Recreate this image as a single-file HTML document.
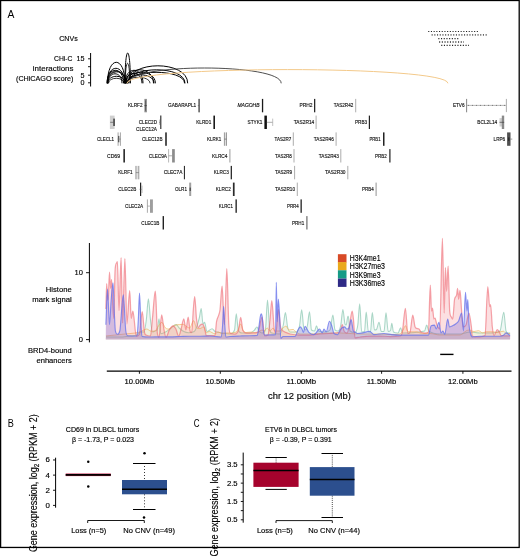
<!DOCTYPE html>
<html><head><meta charset="utf-8"><title>Figure</title>
<style>
html,body{margin:0;padding:0;background:#fff;width:520px;height:557px;overflow:hidden}
svg{display:block;will-change:transform}
text{font-family:"Liberation Sans", sans-serif;stroke:currentColor;stroke-width:0.15px;}
</style></head><body>
<svg width="520" height="557" viewBox="0 0 520 557">
<rect x="0.6" y="0.5" width="518.6" height="546.95" fill="none" stroke="#000" stroke-width="1.3"/>
<text x="7.50" y="17.60" font-size="10.7" textLength="6.90" lengthAdjust="spacingAndGlyphs" fill="#000" style="color:#000;stroke-width:0px" >A</text>
<text x="7.70" y="426.80" font-size="10.5" textLength="6.10" lengthAdjust="spacingAndGlyphs" fill="#000" style="color:#000;stroke-width:0px" >B</text>
<text x="193.80" y="426.80" font-size="10.5" textLength="5.80" lengthAdjust="spacingAndGlyphs" fill="#000" style="color:#000;stroke-width:0px" >C</text>
<text x="59.20" y="41.20" font-size="8.0" textLength="18.50" lengthAdjust="spacingAndGlyphs" fill="#000" style="color:#000" >CNVs</text>
<line x1="428.2" y1="31.5" x2="478.5" y2="31.5" stroke="#222" stroke-width="1.2" stroke-dasharray="1.1 1.6"/>
<line x1="431.6" y1="34.9" x2="487.7" y2="34.9" stroke="#666" stroke-width="1.9" stroke-dasharray="1.1 1.6"/>
<line x1="438.3" y1="38.6" x2="459" y2="38.6" stroke="#222" stroke-width="1.2" stroke-dasharray="1.1 1.6"/>
<line x1="439.1" y1="42.0" x2="464" y2="42.0" stroke="#666" stroke-width="1.9" stroke-dasharray="1.1 1.6"/>
<line x1="441.2" y1="45.4" x2="469" y2="45.4" stroke="#222" stroke-width="1.2" stroke-dasharray="1.1 1.6"/>
<text x="54.00" y="61.20" font-size="8.0" textLength="18.50" lengthAdjust="spacingAndGlyphs" fill="#000" style="color:#000" >CHi-C</text>
<text x="32.80" y="71.30" font-size="8.0" textLength="40.70" lengthAdjust="spacingAndGlyphs" fill="#000" style="color:#000" >interactions</text>
<text x="16.00" y="81.00" font-size="8.0" textLength="57.50" lengthAdjust="spacingAndGlyphs" fill="#000" style="color:#000" >(CHiCAGO score)</text>
<line x1="90.6" y1="53" x2="90.6" y2="86.5" stroke="#000" stroke-width="1"/>
<line x1="88" y1="58.8" x2="90.6" y2="58.8" stroke="#000" stroke-width="0.9"/>
<line x1="88" y1="66.7" x2="90.6" y2="66.7" stroke="#000" stroke-width="0.9"/>
<line x1="88" y1="75.2" x2="90.6" y2="75.2" stroke="#000" stroke-width="0.9"/>
<line x1="88" y1="82.8" x2="90.6" y2="82.8" stroke="#000" stroke-width="0.9"/>
<text x="76.50" y="61.30" font-size="8.0" textLength="8.00" lengthAdjust="spacingAndGlyphs" fill="#000" style="color:#000" >15</text>
<text x="80.50" y="77.70" font-size="8.0" textLength="4.00" lengthAdjust="spacingAndGlyphs" fill="#000" style="color:#000" >5</text>
<text x="80.50" y="85.30" font-size="8.0" textLength="4.00" lengthAdjust="spacingAndGlyphs" fill="#000" style="color:#000" >0</text>
<path d="M125.0 83.3 C125.0 42.90 130.4 42.90 130.4 83.3" fill="none" stroke="#000" stroke-width="1.0" stroke-opacity="1"/>
<path d="M125.3 83.3 C125.3 56.63 129.8 56.63 129.8 83.3" fill="none" stroke="#000" stroke-width="0.9" stroke-opacity="0.9"/>
<path d="M107.5 83.3 C107.5 55.30 125.0 55.30 125.0 83.3" fill="none" stroke="#000" stroke-width="1.0" stroke-opacity="1"/>
<path d="M107.3 83.3 C107.3 63.30 124.5 63.30 124.5 83.3" fill="none" stroke="#000" stroke-width="1.0" stroke-opacity="1"/>
<path d="M107.0 83.3 C107.0 65.97 123.5 65.97 123.5 83.3" fill="none" stroke="#000" stroke-width="1.0" stroke-opacity="1"/>
<path d="M107.6 83.3 C107.6 67.97 126.0 67.97 126.0 83.3" fill="none" stroke="#000" stroke-width="1.0" stroke-opacity="1"/>
<path d="M108.0 83.3 C108.0 70.63 122.0 70.63 122.0 83.3" fill="none" stroke="#000" stroke-width="1.0" stroke-opacity="1"/>
<path d="M107.8 83.3 C107.8 73.97 125.0 73.97 125.0 83.3" fill="none" stroke="#000" stroke-width="1.0" stroke-opacity="1"/>
<path d="M107.2 83.3 C107.2 67.03 125.5 67.03 125.5 83.3" fill="none" stroke="#000" stroke-width="0.9" stroke-opacity="0.9"/>
<path d="M108.5 83.3 C108.5 76.63 124.0 76.63 124.0 83.3" fill="none" stroke="#000" stroke-width="0.9" stroke-opacity="0.9"/>
<path d="M125.0 83.3 C125.0 65.97 143.0 65.97 143.0 83.3" fill="none" stroke="#000" stroke-width="1.0" stroke-opacity="1"/>
<path d="M125.5 83.3 C125.5 69.97 142.0 69.97 142.0 83.3" fill="none" stroke="#000" stroke-width="1.0" stroke-opacity="1"/>
<path d="M126.0 83.3 C126.0 65.30 153.5 65.30 153.5 83.3" fill="none" stroke="#000" stroke-width="1.0" stroke-opacity="1"/>
<path d="M126.0 83.3 C126.0 68.63 155.4 68.63 155.4 83.3" fill="none" stroke="#000" stroke-width="1.0" stroke-opacity="1"/>
<path d="M127.0 83.3 C127.0 71.97 154.0 71.97 154.0 83.3" fill="none" stroke="#000" stroke-width="1.0" stroke-opacity="1"/>
<path d="M126.5 83.3 C126.5 75.30 150.0 75.30 150.0 83.3" fill="none" stroke="#000" stroke-width="0.9" stroke-opacity="0.9"/>
<path d="M128.0 83.3 C128.0 59.97 187.7 59.97 187.7 83.3" fill="none" stroke="#000" stroke-width="1.0" stroke-opacity="1"/>
<path d="M128.0 83.3 C128.0 65.30 185.0 65.30 185.0 83.3" fill="none" stroke="#000" stroke-width="1.0" stroke-opacity="1"/>
<path d="M127.5 83.3 C127.5 68.63 184.6 68.63 184.6 83.3" fill="none" stroke="#000" stroke-width="1.0" stroke-opacity="1"/>
<path d="M128.0 83.3 C128.0 62.90 281.2 62.90 281.2 83.3" fill="none" stroke="#3a3a3a" stroke-width="0.9" stroke-opacity="1"/>
<path d="M127.0 83.3 C127.0 65.03 447.9 65.03 447.9 83.3" fill="none" stroke="#f3c98a" stroke-width="1.0" stroke-opacity="1"/>
<text x="128.00" y="107.40" font-size="5.3" textLength="14.50" lengthAdjust="spacingAndGlyphs" fill="#111" style="color:#111" >KLRF2</text>
<rect x="144.4" y="98.90" width="2.50" height="13.40" fill="#8c8c8c"/>
<rect x="145.4" y="100.40" width="0.60" height="10.40" fill="#444"/>
<line x1="144.4" y1="105.60" x2="146.9" y2="105.60" stroke="#333" stroke-width="0.6"/>
<text x="168.00" y="107.40" font-size="5.3" textLength="28.25" lengthAdjust="spacingAndGlyphs" fill="#111" style="color:#111" >GABARAPL1</text>
<rect x="198.3" y="98.90" width="1.60" height="13.40" fill="#b0b0b0"/>
<line x1="199.1" y1="98.90" x2="199.1" y2="112.30" stroke="#222" stroke-width="0.8"/>
<line x1="197.8" y1="105.60" x2="199.1" y2="105.60" stroke="#555" stroke-width="0.6"/>
<text x="237.50" y="107.40" font-size="5.3" textLength="22.00" lengthAdjust="spacingAndGlyphs" fill="#111" style="color:#111" font-style="italic">MAGOHB</text>
<rect x="261.9" y="98.90" width="1.30" height="13.40" fill="#1a1a1a"/>
<text x="299.50" y="107.40" font-size="5.3" textLength="13.00" lengthAdjust="spacingAndGlyphs" fill="#111" style="color:#111" >PRH2</text>
<rect x="314.1" y="98.90" width="0.90" height="13.40" fill="#111"/>
<rect x="315.0" y="98.90" width="0.60" height="13.40" fill="#999"/>
<text x="333.75" y="107.40" font-size="5.3" textLength="19.50" lengthAdjust="spacingAndGlyphs" fill="#111" style="color:#111" >TAS2R42</text>
<line x1="355.7" y1="98.90" x2="355.7" y2="112.30" stroke="#8a8a8a" stroke-width="0.7"/>
<rect x="109.9" y="115.60" width="4.70" height="13.40" fill="#cfcfcf"/>
<rect x="113.5" y="118.60" width="1.10" height="7.40" fill="#000"/>
<line x1="110.2" y1="122.30" x2="113.5" y2="122.30" stroke="#444" stroke-width="0.6"/>
<text x="138.75" y="124.10" font-size="5.3" textLength="18.25" lengthAdjust="spacingAndGlyphs" fill="#111" style="color:#111" >CLEC2D</text>
<rect x="159.2" y="119.60" width="1.00" height="5.40" fill="#bbb"/>
<line x1="160.8" y1="115.60" x2="160.8" y2="129.00" stroke="#222" stroke-width="1.1"/>
<line x1="159.0" y1="122.30" x2="160.5" y2="122.30" stroke="#666" stroke-width="0.6"/>
<text x="196.25" y="124.10" font-size="5.3" textLength="15.00" lengthAdjust="spacingAndGlyphs" fill="#111" style="color:#111" >KLRD1</text>
<rect x="213.4" y="115.60" width="1.60" height="13.40" fill="#1a1a1a"/>
<text x="247.50" y="124.10" font-size="5.3" textLength="15.00" lengthAdjust="spacingAndGlyphs" fill="#111" style="color:#111" >STYK1</text>
<rect x="264.4" y="115.60" width="2.50" height="13.40" fill="#111"/>
<line x1="266.9" y1="122.30" x2="272.6" y2="122.30" stroke="#777" stroke-width="0.6"/>
<line x1="272.7" y1="118.60" x2="272.7" y2="126.00" stroke="#999" stroke-width="0.6"/>
<text x="293.75" y="124.10" font-size="5.3" textLength="20.50" lengthAdjust="spacingAndGlyphs" fill="#111" style="color:#111" >TAS2R14</text>
<line x1="316.1" y1="115.60" x2="316.1" y2="129.00" stroke="#8a8a8a" stroke-width="0.7"/>
<text x="355.00" y="124.10" font-size="5.3" textLength="12.00" lengthAdjust="spacingAndGlyphs" fill="#111" style="color:#111" >PRB3</text>
<rect x="368.8" y="115.60" width="1.20" height="13.40" fill="#222"/>
<text x="477.30" y="124.10" font-size="5.3" textLength="19.90" lengthAdjust="spacingAndGlyphs" fill="#111" style="color:#111" >BCL2L14</text>
<rect x="499.5" y="118.10" width="2.50" height="8.40" fill="#d0d0d0"/>
<rect x="501.8" y="115.60" width="2.40" height="13.40" fill="#8a8a8a"/>
<line x1="499.5" y1="122.30" x2="504.2" y2="122.30" stroke="#333" stroke-width="0.6"/>
<text x="97.00" y="140.90" font-size="5.3" textLength="17.00" lengthAdjust="spacingAndGlyphs" fill="#111" style="color:#111" >CLECL1</text>
<line x1="118.1" y1="132.40" x2="118.1" y2="145.80" stroke="#666" stroke-width="0.6"/>
<line x1="120.4" y1="132.40" x2="120.4" y2="145.80" stroke="#666" stroke-width="0.6"/>
<rect x="118.2" y="135.90" width="1.10" height="6.40" fill="#444"/>
<line x1="117.6" y1="139.10" x2="120.9" y2="139.10" stroke="#777" stroke-width="0.6"/>
<text x="142.00" y="140.90" font-size="5.3" textLength="20.50" lengthAdjust="spacingAndGlyphs" fill="#111" style="color:#111" >CLEC12B</text>
<rect x="165.2" y="132.40" width="1.60" height="13.40" fill="#2a2a2a"/>
<text x="207.00" y="140.90" font-size="5.3" textLength="14.25" lengthAdjust="spacingAndGlyphs" fill="#111" style="color:#111" >KLRK1</text>
<rect x="224.4" y="132.40" width="2.10" height="13.40" fill="#dedede"/>
<line x1="224.4" y1="132.40" x2="224.4" y2="145.80" stroke="#777" stroke-width="0.7"/>
<line x1="226.5" y1="132.40" x2="226.5" y2="145.80" stroke="#777" stroke-width="0.7"/>
<line x1="224.4" y1="139.10" x2="226.5" y2="139.10" stroke="#555" stroke-width="0.6"/>
<text x="274.50" y="140.90" font-size="5.3" textLength="16.75" lengthAdjust="spacingAndGlyphs" fill="#111" style="color:#111" >TAS2R7</text>
<line x1="293.3" y1="132.40" x2="293.3" y2="145.80" stroke="#8a8a8a" stroke-width="0.7"/>
<text x="313.75" y="140.90" font-size="5.3" textLength="20.00" lengthAdjust="spacingAndGlyphs" fill="#111" style="color:#111" >TAS2R46</text>
<line x1="336.1" y1="132.40" x2="336.1" y2="145.80" stroke="#8a8a8a" stroke-width="0.7"/>
<text x="369.50" y="140.90" font-size="5.3" textLength="11.00" lengthAdjust="spacingAndGlyphs" fill="#111" style="color:#111" >PRB1</text>
<rect x="383.0" y="132.40" width="1.50" height="13.40" fill="#222"/>
<text x="493.60" y="140.90" font-size="5.3" textLength="11.60" lengthAdjust="spacingAndGlyphs" fill="#111" style="color:#111" >LRP6</text>
<rect x="507.1" y="132.40" width="3.40" height="13.40" fill="#505050"/>
<line x1="510.5" y1="139.10" x2="512.3" y2="139.10" stroke="#555" stroke-width="0.6"/>
<rect x="508.2" y="137.40" width="1.20" height="3.40" fill="#222"/>
<text x="107.00" y="157.60" font-size="5.3" textLength="13.00" lengthAdjust="spacingAndGlyphs" fill="#111" style="color:#111" >CD69</text>
<rect x="123.4" y="149.10" width="1.50" height="13.40" fill="#1a1a1a"/>
<text x="148.75" y="157.60" font-size="5.3" textLength="18.25" lengthAdjust="spacingAndGlyphs" fill="#111" style="color:#111" >CLEC9A</text>
<line x1="168.6" y1="149.10" x2="168.6" y2="162.50" stroke="#888" stroke-width="0.6"/>
<rect x="172.1" y="149.10" width="2.70" height="13.40" fill="#8c8c8c"/>
<line x1="168.6" y1="155.80" x2="172.1" y2="155.80" stroke="#777" stroke-width="0.6"/>
<text x="212.00" y="157.60" font-size="5.3" textLength="15.50" lengthAdjust="spacingAndGlyphs" fill="#111" style="color:#111" >KLRC4</text>
<rect x="229.4" y="149.10" width="1.00" height="13.40" fill="#9a9a9a"/>
<text x="275.00" y="157.60" font-size="5.3" textLength="16.75" lengthAdjust="spacingAndGlyphs" fill="#111" style="color:#111" >TAS2R8</text>
<line x1="294.0" y1="149.10" x2="294.0" y2="162.50" stroke="#8a8a8a" stroke-width="0.7"/>
<text x="318.75" y="157.60" font-size="5.3" textLength="20.00" lengthAdjust="spacingAndGlyphs" fill="#111" style="color:#111" >TAS2R43</text>
<line x1="340.8" y1="149.10" x2="340.8" y2="162.50" stroke="#8a8a8a" stroke-width="0.7"/>
<text x="375.00" y="157.60" font-size="5.3" textLength="11.75" lengthAdjust="spacingAndGlyphs" fill="#111" style="color:#111" >PRB2</text>
<rect x="389.3" y="149.10" width="1.20" height="13.40" fill="#222"/>
<text x="118.25" y="174.40" font-size="5.3" textLength="14.25" lengthAdjust="spacingAndGlyphs" fill="#111" style="color:#111" >KLRF1</text>
<rect x="135.9" y="165.90" width="2.90" height="13.40" fill="#e2e2e2"/>
<line x1="135.9" y1="165.90" x2="135.9" y2="179.30" stroke="#777" stroke-width="0.7"/>
<line x1="138.8" y1="165.90" x2="138.8" y2="179.30" stroke="#777" stroke-width="0.7"/>
<line x1="135.9" y1="172.60" x2="138.8" y2="172.60" stroke="#666" stroke-width="0.6"/>
<text x="163.75" y="174.40" font-size="5.3" textLength="18.75" lengthAdjust="spacingAndGlyphs" fill="#111" style="color:#111" >CLEC7A</text>
<rect x="183.9" y="165.90" width="1.00" height="13.40" fill="#1a1a1a"/>
<text x="213.75" y="174.40" font-size="5.3" textLength="15.00" lengthAdjust="spacingAndGlyphs" fill="#111" style="color:#111" >KLRC3</text>
<rect x="230.7" y="165.90" width="1.20" height="13.40" fill="#1a1a1a"/>
<text x="275.00" y="174.40" font-size="5.3" textLength="17.00" lengthAdjust="spacingAndGlyphs" fill="#111" style="color:#111" >TAS2R9</text>
<line x1="294.6" y1="165.90" x2="294.6" y2="179.30" stroke="#8a8a8a" stroke-width="0.7"/>
<text x="325.00" y="174.40" font-size="5.3" textLength="20.50" lengthAdjust="spacingAndGlyphs" fill="#111" style="color:#111" >TAS2R30</text>
<line x1="347.8" y1="165.90" x2="347.8" y2="179.30" stroke="#8a8a8a" stroke-width="0.7"/>
<text x="118.25" y="191.10" font-size="5.3" textLength="18.00" lengthAdjust="spacingAndGlyphs" fill="#111" style="color:#111" >CLEC2B</text>
<rect x="140.0" y="182.60" width="1.20" height="13.40" fill="#222"/>
<rect x="141.2" y="185.60" width="1.30" height="7.40" fill="#bbb"/>
<line x1="139.6" y1="189.30" x2="141.5" y2="189.30" stroke="#444" stroke-width="0.6"/>
<text x="175.00" y="191.10" font-size="5.3" textLength="12.00" lengthAdjust="spacingAndGlyphs" fill="#111" style="color:#111" >OLR1</text>
<rect x="189.2" y="182.60" width="2.00" height="13.40" fill="#a0a0a0"/>
<rect x="189.6" y="187.60" width="1.20" height="3.40" fill="#444"/>
<text x="215.75" y="191.10" font-size="5.3" textLength="15.00" lengthAdjust="spacingAndGlyphs" fill="#111" style="color:#111" >KLRC2</text>
<rect x="232.9" y="182.60" width="1.70" height="13.40" fill="#2a2a2a"/>
<text x="275.00" y="191.10" font-size="5.3" textLength="20.00" lengthAdjust="spacingAndGlyphs" fill="#111" style="color:#111" >TAS2R10</text>
<line x1="297.3" y1="182.60" x2="297.3" y2="196.00" stroke="#8a8a8a" stroke-width="0.7"/>
<text x="362.00" y="191.10" font-size="5.3" textLength="11.75" lengthAdjust="spacingAndGlyphs" fill="#111" style="color:#111" >PRB4</text>
<line x1="376.1" y1="182.60" x2="376.1" y2="196.00" stroke="#777" stroke-width="0.8"/>
<text x="125.00" y="207.90" font-size="5.3" textLength="18.25" lengthAdjust="spacingAndGlyphs" fill="#111" style="color:#111" >CLEC2A</text>
<line x1="147.4" y1="199.40" x2="147.4" y2="212.80" stroke="#888" stroke-width="0.7"/>
<rect x="150.0" y="199.40" width="2.90" height="13.40" fill="#9e9e9e"/>
<line x1="147.4" y1="206.10" x2="150.0" y2="206.10" stroke="#888" stroke-width="0.6"/>
<text x="218.75" y="207.90" font-size="5.3" textLength="14.25" lengthAdjust="spacingAndGlyphs" fill="#111" style="color:#111" >KLRC1</text>
<rect x="235.5" y="199.40" width="1.30" height="13.40" fill="#1a1a1a"/>
<text x="287.00" y="207.90" font-size="5.3" textLength="11.75" lengthAdjust="spacingAndGlyphs" fill="#111" style="color:#111" >PRR4</text>
<rect x="300.5" y="199.40" width="1.30" height="13.40" fill="#222"/>
<text x="141.25" y="224.60" font-size="5.3" textLength="18.25" lengthAdjust="spacingAndGlyphs" fill="#111" style="color:#111" >CLEC1B</text>
<rect x="162.6" y="216.10" width="1.40" height="13.40" fill="#222"/>
<text x="292.00" y="224.60" font-size="5.3" textLength="12.25" lengthAdjust="spacingAndGlyphs" fill="#111" style="color:#111" >PRH1</text>
<rect x="306.3" y="216.10" width="1.20" height="13.40" fill="#6a6a6a"/>
<text x="136.00" y="130.55" font-size="5.3" textLength="21.00" lengthAdjust="spacingAndGlyphs" fill="#111" style="color:#111" >CLEC12A</text>
<text x="452.90" y="107.40" font-size="5.3" textLength="11.70" lengthAdjust="spacingAndGlyphs" fill="#111" style="color:#111" >ETV6</text>
<rect x="466.2" y="98.9" width="0.9" height="13.4" fill="#777"/>
<rect x="505.9" y="98.9" width="0.8" height="13.2" fill="#999"/>
<line x1="467" y1="105.4" x2="506" y2="105.4" stroke="#888" stroke-width="0.6"/>
<line x1="468" y1="105.4" x2="506" y2="105.4" stroke="#444" stroke-width="0.7" stroke-dasharray="0.8 3.2"/>
<line x1="89.4" y1="243" x2="89.4" y2="342.4" stroke="#000" stroke-width="1"/>
<line x1="86" y1="272.7" x2="89.4" y2="272.7" stroke="#000" stroke-width="0.9"/>
<line x1="86" y1="339.6" x2="89.4" y2="339.6" stroke="#000" stroke-width="0.9"/>
<text x="74.60" y="275.30" font-size="7.2" textLength="8.40" lengthAdjust="spacingAndGlyphs" fill="#000" style="color:#000" >10</text>
<text x="78.80" y="342.30" font-size="7.2" textLength="4.20" lengthAdjust="spacingAndGlyphs" fill="#000" style="color:#000" >0</text>
<text x="45.80" y="292.20" font-size="8.0" textLength="26.00" lengthAdjust="spacingAndGlyphs" fill="#000" style="color:#000" >Histone</text>
<text x="32.30" y="302.20" font-size="8.0" textLength="39.50" lengthAdjust="spacingAndGlyphs" fill="#000" style="color:#000" >mark signal</text>
<text x="28.00" y="352.50" font-size="8.0" textLength="43.80" lengthAdjust="spacingAndGlyphs" fill="#000" style="color:#000" >BRD4-bound</text>
<text x="36.50" y="362.70" font-size="8.0" textLength="35.30" lengthAdjust="spacingAndGlyphs" fill="#000" style="color:#000" >enhancers</text>
<path d="M105.8,339.6 L106.0,337.0 C110.67,337.00 115.33,337.00 120.00,337.00 C123.33,337.00 126.67,336.30 130.00,336.00 C132.33,335.79 134.67,335.98 137.00,335.00 C138.00,334.58 139.00,332.00 140.00,332.00 C141.33,332.00 142.67,332.00 144.00,332.00 C144.77,332.00 145.53,325.85 146.30,320.00 C147.00,314.66 147.70,298.90 148.40,298.90 C149.10,298.90 149.80,314.38 150.50,320.00 C151.17,325.35 151.83,332.00 152.50,332.00 C153.33,332.00 154.17,331.13 155.00,331.00 C155.77,330.88 156.53,330.99 157.30,330.00 C157.87,329.27 158.43,318.80 159.00,318.80 C159.60,318.80 160.20,333.80 160.80,333.80 C162.70,333.80 164.60,332.59 166.50,331.50 C168.07,330.60 169.63,329.11 171.20,328.00 C172.90,326.80 174.60,324.60 176.30,324.60 C177.27,324.60 178.23,327.07 179.20,328.00 C180.73,329.48 182.27,330.72 183.80,331.50 C185.37,332.30 186.93,332.70 188.50,332.70 C190.40,332.70 192.30,332.70 194.20,331.50 C195.90,330.43 197.60,324.50 199.30,318.00 C199.93,315.58 200.57,308.50 201.20,308.50 C201.80,308.50 202.40,324.00 203.00,324.00 C203.53,324.00 204.07,322.30 204.60,322.30 C205.37,322.30 206.13,331.50 206.90,331.50 C208.63,331.50 210.37,328.70 212.10,328.70 C213.07,328.70 214.03,330.91 215.00,331.50 C215.67,331.91 216.33,331.85 217.00,332.00 C218.67,332.38 220.33,332.73 222.00,333.00 C224.67,333.43 227.33,334.00 230.00,334.00 C231.50,334.00 233.00,334.00 234.50,330.00 C235.10,328.40 235.70,313.70 236.30,313.70 C236.93,313.70 237.57,328.50 238.20,330.00 C239.47,333.00 240.73,333.00 242.00,333.00 C244.67,333.00 247.33,333.00 250.00,333.00 C251.50,333.00 253.00,331.44 254.50,330.00 C255.30,329.23 256.10,327.00 256.90,327.00 C257.60,327.00 258.30,330.10 259.00,331.00 C260.00,332.29 261.00,333.00 262.00,333.00 C263.13,333.00 264.27,333.00 265.40,330.00 C266.10,328.15 266.80,300.00 267.50,300.00 C268.27,300.00 269.03,326.88 269.80,330.00 C270.53,332.98 271.27,332.73 272.00,333.00 C274.67,334.00 277.33,334.00 280.00,334.00 C281.10,334.00 282.20,329.75 283.30,325.00 C284.00,321.98 284.70,312.60 285.40,312.60 C286.13,312.60 286.87,323.84 287.60,327.00 C288.40,330.45 289.20,332.00 290.00,332.00 C292.00,332.00 294.00,332.00 296.00,332.00 C297.17,332.00 298.33,331.30 299.50,326.00 C300.23,322.67 300.97,309.80 301.70,309.80 C302.40,309.80 303.10,326.09 303.80,328.00 C304.53,330.00 305.27,330.00 306.00,330.00 C306.50,330.00 307.00,327.50 307.50,325.00 C308.17,321.67 308.83,311.70 309.50,311.70 C310.17,311.70 310.83,329.35 311.50,330.00 C312.53,331.00 313.57,331.00 314.60,331.00 C315.23,331.00 315.87,325.70 316.50,325.70 C317.13,325.70 317.77,330.71 318.40,331.00 C320.60,332.00 322.80,332.00 325.00,332.00 C326.67,332.00 328.33,332.00 330.00,330.00 C330.97,328.84 331.93,315.10 332.90,315.10 C333.60,315.10 334.30,329.30 335.00,330.00 C336.00,331.00 337.00,331.00 338.00,331.00 C338.93,331.00 339.87,329.44 340.80,325.00 C341.50,321.67 342.20,309.50 342.90,309.50 C343.60,309.50 344.30,322.25 345.00,324.00 C345.40,325.00 345.80,325.00 346.20,325.00 C346.77,325.00 347.33,316.20 347.90,316.20 C348.03,316.20 348.17,316.20 348.30,316.20 C348.87,316.20 349.43,330.49 350.00,331.00 C351.67,332.50 353.33,332.50 355.00,332.50 C355.93,332.50 356.87,331.43 357.80,325.00 C358.43,320.64 359.07,303.90 359.70,303.90 C360.37,303.90 361.03,332.00 361.70,332.00 C362.63,332.00 363.57,332.00 364.50,331.50 C365.07,331.20 365.63,312.10 366.20,312.10 C366.93,312.10 367.67,332.00 368.40,332.00 C369.10,332.00 369.80,332.00 370.50,331.50 C371.10,331.07 371.70,312.50 372.30,312.50 C373.03,312.50 373.77,330.00 374.50,330.00 C375.17,330.00 375.83,330.00 376.50,329.50 C377.33,328.88 378.17,322.30 379.00,322.30 C379.77,322.30 380.53,331.50 381.30,331.50 C382.20,331.50 383.10,331.50 384.00,331.50 C384.67,331.50 385.33,312.90 386.00,312.90 C386.73,312.90 387.47,331.50 388.20,331.50 C388.97,331.50 389.73,331.50 390.50,330.50 C390.93,329.93 391.37,323.40 391.80,323.40 C392.37,323.40 392.93,331.62 393.50,332.00 C395.00,333.00 396.50,333.00 398.00,333.00 C398.87,333.00 399.73,327.90 400.60,327.90 C401.23,327.90 401.87,333.00 402.50,333.00 C409.83,333.00 417.17,333.00 424.50,331.00 C425.23,330.80 425.97,325.10 426.70,325.10 C427.40,325.10 428.10,330.44 428.80,331.00 C432.53,334.00 436.27,334.00 440.00,334.00 C446.67,334.00 453.33,334.00 460.00,334.00 C463.33,334.00 466.67,332.00 470.00,332.00 C473.33,332.00 476.67,333.00 480.00,333.00 C483.33,333.00 486.67,333.00 490.00,333.00 C493.33,333.00 496.67,333.00 500.00,331.00 C501.27,330.24 502.53,312.30 503.80,312.30 C504.53,312.30 505.27,328.80 506.00,331.00 C506.67,333.00 507.33,333.00 508.00,333.00 C508.70,333.00 509.40,333.00 510.10,333.00 L510.1,339.6 Z" fill="rgba(110,195,165,0.11)" stroke="none"/>
<path d="M106.00,337.00 C110.67,337.00 115.33,337.00 120.00,337.00 C123.33,337.00 126.67,336.30 130.00,336.00 C132.33,335.79 134.67,335.98 137.00,335.00 C138.00,334.58 139.00,332.00 140.00,332.00 C141.33,332.00 142.67,332.00 144.00,332.00 C144.77,332.00 145.53,325.85 146.30,320.00 C147.00,314.66 147.70,298.90 148.40,298.90 C149.10,298.90 149.80,314.38 150.50,320.00 C151.17,325.35 151.83,332.00 152.50,332.00 C153.33,332.00 154.17,331.13 155.00,331.00 C155.77,330.88 156.53,330.99 157.30,330.00 C157.87,329.27 158.43,318.80 159.00,318.80 C159.60,318.80 160.20,333.80 160.80,333.80 C162.70,333.80 164.60,332.59 166.50,331.50 C168.07,330.60 169.63,329.11 171.20,328.00 C172.90,326.80 174.60,324.60 176.30,324.60 C177.27,324.60 178.23,327.07 179.20,328.00 C180.73,329.48 182.27,330.72 183.80,331.50 C185.37,332.30 186.93,332.70 188.50,332.70 C190.40,332.70 192.30,332.70 194.20,331.50 C195.90,330.43 197.60,324.50 199.30,318.00 C199.93,315.58 200.57,308.50 201.20,308.50 C201.80,308.50 202.40,324.00 203.00,324.00 C203.53,324.00 204.07,322.30 204.60,322.30 C205.37,322.30 206.13,331.50 206.90,331.50 C208.63,331.50 210.37,328.70 212.10,328.70 C213.07,328.70 214.03,330.91 215.00,331.50 C215.67,331.91 216.33,331.85 217.00,332.00 C218.67,332.38 220.33,332.73 222.00,333.00 C224.67,333.43 227.33,334.00 230.00,334.00 C231.50,334.00 233.00,334.00 234.50,330.00 C235.10,328.40 235.70,313.70 236.30,313.70 C236.93,313.70 237.57,328.50 238.20,330.00 C239.47,333.00 240.73,333.00 242.00,333.00 C244.67,333.00 247.33,333.00 250.00,333.00 C251.50,333.00 253.00,331.44 254.50,330.00 C255.30,329.23 256.10,327.00 256.90,327.00 C257.60,327.00 258.30,330.10 259.00,331.00 C260.00,332.29 261.00,333.00 262.00,333.00 C263.13,333.00 264.27,333.00 265.40,330.00 C266.10,328.15 266.80,300.00 267.50,300.00 C268.27,300.00 269.03,326.88 269.80,330.00 C270.53,332.98 271.27,332.73 272.00,333.00 C274.67,334.00 277.33,334.00 280.00,334.00 C281.10,334.00 282.20,329.75 283.30,325.00 C284.00,321.98 284.70,312.60 285.40,312.60 C286.13,312.60 286.87,323.84 287.60,327.00 C288.40,330.45 289.20,332.00 290.00,332.00 C292.00,332.00 294.00,332.00 296.00,332.00 C297.17,332.00 298.33,331.30 299.50,326.00 C300.23,322.67 300.97,309.80 301.70,309.80 C302.40,309.80 303.10,326.09 303.80,328.00 C304.53,330.00 305.27,330.00 306.00,330.00 C306.50,330.00 307.00,327.50 307.50,325.00 C308.17,321.67 308.83,311.70 309.50,311.70 C310.17,311.70 310.83,329.35 311.50,330.00 C312.53,331.00 313.57,331.00 314.60,331.00 C315.23,331.00 315.87,325.70 316.50,325.70 C317.13,325.70 317.77,330.71 318.40,331.00 C320.60,332.00 322.80,332.00 325.00,332.00 C326.67,332.00 328.33,332.00 330.00,330.00 C330.97,328.84 331.93,315.10 332.90,315.10 C333.60,315.10 334.30,329.30 335.00,330.00 C336.00,331.00 337.00,331.00 338.00,331.00 C338.93,331.00 339.87,329.44 340.80,325.00 C341.50,321.67 342.20,309.50 342.90,309.50 C343.60,309.50 344.30,322.25 345.00,324.00 C345.40,325.00 345.80,325.00 346.20,325.00 C346.77,325.00 347.33,316.20 347.90,316.20 C348.03,316.20 348.17,316.20 348.30,316.20 C348.87,316.20 349.43,330.49 350.00,331.00 C351.67,332.50 353.33,332.50 355.00,332.50 C355.93,332.50 356.87,331.43 357.80,325.00 C358.43,320.64 359.07,303.90 359.70,303.90 C360.37,303.90 361.03,332.00 361.70,332.00 C362.63,332.00 363.57,332.00 364.50,331.50 C365.07,331.20 365.63,312.10 366.20,312.10 C366.93,312.10 367.67,332.00 368.40,332.00 C369.10,332.00 369.80,332.00 370.50,331.50 C371.10,331.07 371.70,312.50 372.30,312.50 C373.03,312.50 373.77,330.00 374.50,330.00 C375.17,330.00 375.83,330.00 376.50,329.50 C377.33,328.88 378.17,322.30 379.00,322.30 C379.77,322.30 380.53,331.50 381.30,331.50 C382.20,331.50 383.10,331.50 384.00,331.50 C384.67,331.50 385.33,312.90 386.00,312.90 C386.73,312.90 387.47,331.50 388.20,331.50 C388.97,331.50 389.73,331.50 390.50,330.50 C390.93,329.93 391.37,323.40 391.80,323.40 C392.37,323.40 392.93,331.62 393.50,332.00 C395.00,333.00 396.50,333.00 398.00,333.00 C398.87,333.00 399.73,327.90 400.60,327.90 C401.23,327.90 401.87,333.00 402.50,333.00 C409.83,333.00 417.17,333.00 424.50,331.00 C425.23,330.80 425.97,325.10 426.70,325.10 C427.40,325.10 428.10,330.44 428.80,331.00 C432.53,334.00 436.27,334.00 440.00,334.00 C446.67,334.00 453.33,334.00 460.00,334.00 C463.33,334.00 466.67,332.00 470.00,332.00 C473.33,332.00 476.67,333.00 480.00,333.00 C483.33,333.00 486.67,333.00 490.00,333.00 C493.33,333.00 496.67,333.00 500.00,331.00 C501.27,330.24 502.53,312.30 503.80,312.30 C504.53,312.30 505.27,328.80 506.00,331.00 C506.67,333.00 507.33,333.00 508.00,333.00 C508.70,333.00 509.40,333.00 510.10,333.00" fill="none" stroke="rgba(120,190,165,0.6)" stroke-width="1.1" stroke-linejoin="round"/>
<path d="M105.8,339.6 L106.0,336.0 C109.00,335.67 112.00,335.32 115.00,335.00 C118.33,334.65 121.67,334.33 125.00,334.00 C128.33,333.67 131.67,333.50 135.00,333.00 C136.67,332.75 138.33,332.54 140.00,332.00 C142.23,331.28 144.47,329.00 146.70,329.00 C148.13,329.00 149.57,331.20 151.00,331.20 C152.33,331.20 153.67,331.20 155.00,331.00 C156.17,330.82 157.33,327.27 158.50,325.80 C159.63,324.37 160.77,322.30 161.90,322.30 C163.07,322.30 164.23,326.97 165.40,328.00 C166.53,329.00 167.67,329.00 168.80,329.00 C170.73,329.00 172.67,325.85 174.60,325.20 C176.33,324.62 178.07,324.75 179.80,324.60 C180.97,324.50 182.13,324.30 183.30,324.30 C184.27,324.30 185.23,325.73 186.20,326.30 C187.33,326.97 188.47,328.00 189.60,328.00 C190.97,328.00 192.33,320.60 193.70,320.60 C194.63,320.60 195.57,327.52 196.50,328.00 C197.67,328.60 198.83,328.60 200.00,328.60 C201.17,328.60 202.33,326.90 203.50,326.90 C204.43,326.90 205.37,332.70 206.30,332.70 C207.27,332.70 208.23,331.50 209.20,331.50 C211.13,331.50 213.07,333.80 215.00,333.80 C216.00,333.80 217.00,332.00 218.00,332.00 C219.33,332.00 220.67,333.50 222.00,333.50 C223.00,333.50 224.00,333.00 225.00,333.00 C226.67,333.00 228.33,333.00 230.00,333.00 C231.67,333.00 233.33,333.00 235.00,332.50 C235.87,332.24 236.73,331.84 237.60,330.60 C238.63,329.12 239.67,324.00 240.70,324.00 C241.43,324.00 242.17,328.70 242.90,330.00 C243.93,331.83 244.97,332.50 246.00,332.50 C247.93,332.50 249.87,332.00 251.80,332.00 C252.87,332.00 253.93,333.00 255.00,333.00 C256.00,333.00 257.00,332.90 258.00,332.50 C259.33,331.97 260.67,330.00 262.00,330.00 C262.67,330.00 263.33,331.00 264.00,331.00 C265.10,331.00 266.20,328.10 267.30,328.10 C268.20,328.10 269.10,331.00 270.00,331.00 C271.00,331.00 272.00,328.00 273.00,328.00 C273.67,328.00 274.33,331.00 275.00,331.00 C276.67,331.00 278.33,331.00 280.00,331.00 C281.00,331.00 282.00,328.80 283.00,328.00 C284.00,327.20 285.00,326.20 286.00,326.20 C287.00,326.20 288.00,330.00 289.00,330.00 C290.37,330.00 291.73,329.40 293.10,329.40 C294.07,329.40 295.03,331.32 296.00,332.00 C297.33,332.93 298.67,334.00 300.00,334.00 C303.33,334.00 306.67,334.00 310.00,334.00 C313.33,334.00 316.67,333.67 320.00,333.50 C323.33,333.33 326.67,333.00 330.00,333.00 C333.33,333.00 336.67,333.00 340.00,333.00 C343.33,333.00 346.67,333.33 350.00,333.50 C353.33,333.67 356.67,334.00 360.00,334.00 C363.33,334.00 366.67,334.00 370.00,334.00 C373.33,334.00 376.67,334.00 380.00,334.00 C383.33,334.00 386.67,334.50 390.00,334.50 C393.33,334.50 396.67,334.50 400.00,334.00 C401.00,333.85 402.00,331.49 403.00,330.00 C403.87,328.71 404.73,325.70 405.60,325.70 C406.23,325.70 406.87,330.57 407.50,331.00 C408.67,331.80 409.83,331.80 411.00,331.80 C412.90,331.80 414.80,331.80 416.70,331.80 C417.80,331.80 418.90,332.75 420.00,333.00 C421.67,333.39 423.33,333.50 425.00,333.50 C426.67,333.50 428.33,333.50 430.00,333.50 C433.33,333.50 436.67,335.00 440.00,335.00 C446.67,335.00 453.33,335.00 460.00,335.00 C462.00,335.00 464.00,332.00 466.00,331.00 C467.00,330.50 468.00,330.00 469.00,330.00 C470.67,330.00 472.33,331.50 474.00,331.50 C475.47,331.50 476.93,330.70 478.40,330.70 C479.87,330.70 481.33,332.90 482.80,332.90 C483.87,332.90 484.93,331.80 486.00,331.80 C488.47,331.80 490.93,331.80 493.40,331.80 C494.60,331.80 495.80,332.50 497.00,332.50 C499.13,332.50 501.27,331.20 503.40,331.20 C504.43,331.20 505.47,333.50 506.50,333.50 C507.70,333.50 508.90,333.50 510.10,333.50 L510.1,339.6 Z" fill="rgba(245,185,80,0.15)" stroke="none"/>
<path d="M106.00,336.00 C109.00,335.67 112.00,335.32 115.00,335.00 C118.33,334.65 121.67,334.33 125.00,334.00 C128.33,333.67 131.67,333.50 135.00,333.00 C136.67,332.75 138.33,332.54 140.00,332.00 C142.23,331.28 144.47,329.00 146.70,329.00 C148.13,329.00 149.57,331.20 151.00,331.20 C152.33,331.20 153.67,331.20 155.00,331.00 C156.17,330.82 157.33,327.27 158.50,325.80 C159.63,324.37 160.77,322.30 161.90,322.30 C163.07,322.30 164.23,326.97 165.40,328.00 C166.53,329.00 167.67,329.00 168.80,329.00 C170.73,329.00 172.67,325.85 174.60,325.20 C176.33,324.62 178.07,324.75 179.80,324.60 C180.97,324.50 182.13,324.30 183.30,324.30 C184.27,324.30 185.23,325.73 186.20,326.30 C187.33,326.97 188.47,328.00 189.60,328.00 C190.97,328.00 192.33,320.60 193.70,320.60 C194.63,320.60 195.57,327.52 196.50,328.00 C197.67,328.60 198.83,328.60 200.00,328.60 C201.17,328.60 202.33,326.90 203.50,326.90 C204.43,326.90 205.37,332.70 206.30,332.70 C207.27,332.70 208.23,331.50 209.20,331.50 C211.13,331.50 213.07,333.80 215.00,333.80 C216.00,333.80 217.00,332.00 218.00,332.00 C219.33,332.00 220.67,333.50 222.00,333.50 C223.00,333.50 224.00,333.00 225.00,333.00 C226.67,333.00 228.33,333.00 230.00,333.00 C231.67,333.00 233.33,333.00 235.00,332.50 C235.87,332.24 236.73,331.84 237.60,330.60 C238.63,329.12 239.67,324.00 240.70,324.00 C241.43,324.00 242.17,328.70 242.90,330.00 C243.93,331.83 244.97,332.50 246.00,332.50 C247.93,332.50 249.87,332.00 251.80,332.00 C252.87,332.00 253.93,333.00 255.00,333.00 C256.00,333.00 257.00,332.90 258.00,332.50 C259.33,331.97 260.67,330.00 262.00,330.00 C262.67,330.00 263.33,331.00 264.00,331.00 C265.10,331.00 266.20,328.10 267.30,328.10 C268.20,328.10 269.10,331.00 270.00,331.00 C271.00,331.00 272.00,328.00 273.00,328.00 C273.67,328.00 274.33,331.00 275.00,331.00 C276.67,331.00 278.33,331.00 280.00,331.00 C281.00,331.00 282.00,328.80 283.00,328.00 C284.00,327.20 285.00,326.20 286.00,326.20 C287.00,326.20 288.00,330.00 289.00,330.00 C290.37,330.00 291.73,329.40 293.10,329.40 C294.07,329.40 295.03,331.32 296.00,332.00 C297.33,332.93 298.67,334.00 300.00,334.00 C303.33,334.00 306.67,334.00 310.00,334.00 C313.33,334.00 316.67,333.67 320.00,333.50 C323.33,333.33 326.67,333.00 330.00,333.00 C333.33,333.00 336.67,333.00 340.00,333.00 C343.33,333.00 346.67,333.33 350.00,333.50 C353.33,333.67 356.67,334.00 360.00,334.00 C363.33,334.00 366.67,334.00 370.00,334.00 C373.33,334.00 376.67,334.00 380.00,334.00 C383.33,334.00 386.67,334.50 390.00,334.50 C393.33,334.50 396.67,334.50 400.00,334.00 C401.00,333.85 402.00,331.49 403.00,330.00 C403.87,328.71 404.73,325.70 405.60,325.70 C406.23,325.70 406.87,330.57 407.50,331.00 C408.67,331.80 409.83,331.80 411.00,331.80 C412.90,331.80 414.80,331.80 416.70,331.80 C417.80,331.80 418.90,332.75 420.00,333.00 C421.67,333.39 423.33,333.50 425.00,333.50 C426.67,333.50 428.33,333.50 430.00,333.50 C433.33,333.50 436.67,335.00 440.00,335.00 C446.67,335.00 453.33,335.00 460.00,335.00 C462.00,335.00 464.00,332.00 466.00,331.00 C467.00,330.50 468.00,330.00 469.00,330.00 C470.67,330.00 472.33,331.50 474.00,331.50 C475.47,331.50 476.93,330.70 478.40,330.70 C479.87,330.70 481.33,332.90 482.80,332.90 C483.87,332.90 484.93,331.80 486.00,331.80 C488.47,331.80 490.93,331.80 493.40,331.80 C494.60,331.80 495.80,332.50 497.00,332.50 C499.13,332.50 501.27,331.20 503.40,331.20 C504.43,331.20 505.47,333.50 506.50,333.50 C507.70,333.50 508.90,333.50 510.10,333.50" fill="none" stroke="rgba(238,180,90,0.65)" stroke-width="1.0" stroke-linejoin="round"/>
<path d="M105.8,339.6 L105.9,308.9 C106.17,300.47 106.43,283.60 106.70,283.60 C107.00,283.60 107.30,300.00 107.60,300.00 C107.83,300.00 108.07,300.00 108.30,298.00 C108.70,294.57 109.10,272.20 109.50,272.20 C109.87,272.20 110.23,288.30 110.60,288.30 C110.93,288.30 111.27,279.60 111.60,279.60 C111.97,279.60 112.33,297.53 112.70,304.00 C113.07,310.47 113.43,318.40 113.80,318.40 C114.20,318.40 114.60,281.90 115.00,272.00 C115.20,267.05 115.40,266.83 115.60,265.50 C115.93,263.28 116.27,263.73 116.60,263.00 C116.87,262.42 117.13,261.50 117.40,261.50 C117.93,261.50 118.47,310.50 119.00,310.50 C119.70,310.50 120.40,257.50 121.10,257.50 C121.60,257.50 122.10,323.00 122.60,323.00 C123.37,323.00 124.13,258.60 124.90,258.60 C125.57,258.60 126.23,323.90 126.90,323.90 C127.83,323.90 128.77,290.70 129.70,290.70 C130.20,290.70 130.70,318.40 131.20,318.40 C131.77,318.40 132.33,311.20 132.90,311.20 C133.80,311.20 134.70,327.94 135.60,332.60 C136.07,335.02 136.53,336.00 137.00,336.00 C137.83,336.00 138.67,336.00 139.50,334.00 C140.40,331.84 141.30,311.70 142.20,311.70 C142.97,311.70 143.73,328.23 144.50,332.30 C145.00,334.95 145.50,334.67 146.00,335.00 C147.50,336.00 149.00,336.00 150.50,336.00 C151.17,336.00 151.83,324.20 152.50,318.00 C153.43,309.32 154.37,291.10 155.30,291.10 C155.60,291.10 155.90,298.91 156.20,305.00 C156.57,312.45 156.93,329.72 157.30,332.70 C157.87,337.30 158.43,337.30 159.00,337.30 C159.90,337.30 160.80,314.80 161.70,314.80 C162.37,314.80 163.03,324.45 163.70,328.00 C164.47,332.08 165.23,337.30 166.00,337.30 C167.13,337.30 168.27,331.70 169.40,329.80 C170.57,327.85 171.73,325.80 172.90,325.80 C173.87,325.80 174.83,326.97 175.80,328.70 C176.77,330.43 177.73,336.20 178.70,336.20 C179.47,336.20 180.23,332.08 181.00,329.50 C181.93,326.36 182.87,318.80 183.80,318.80 C184.50,318.80 185.20,329.80 185.90,329.80 C186.67,329.80 187.43,317.10 188.20,317.10 C188.87,317.10 189.53,329.90 190.20,331.50 C190.70,332.70 191.20,332.70 191.70,332.70 C192.23,332.70 192.77,316.35 193.30,310.00 C193.77,304.44 194.23,296.50 194.70,296.50 C195.30,296.50 195.90,313.63 196.50,318.80 C197.10,323.97 197.70,327.50 198.30,327.50 C198.87,327.50 199.43,325.73 200.00,325.20 C200.77,324.48 201.53,324.00 202.30,324.00 C203.07,324.00 203.83,325.62 204.60,328.00 C205.17,329.76 205.73,335.60 206.30,335.60 C209.20,335.60 212.10,335.60 215.00,335.60 C215.50,335.60 216.00,324.86 216.50,321.80 C217.23,317.31 217.97,317.66 218.70,315.10 C219.13,313.59 219.57,313.31 220.00,310.00 C220.70,304.66 221.40,286.20 222.10,286.20 C222.67,286.20 223.23,311.28 223.80,318.80 C224.07,322.34 224.33,324.70 224.60,324.70 C225.33,324.70 226.07,268.50 226.80,268.50 C227.47,268.50 228.13,313.85 228.80,324.70 C229.33,333.38 229.87,333.33 230.40,333.50 C231.93,334.00 233.47,334.00 235.00,334.00 C236.17,334.00 237.33,334.00 238.50,330.00 C239.23,327.49 239.97,317.40 240.70,317.40 C241.43,317.40 242.17,328.90 242.90,330.60 C243.93,333.00 244.97,333.00 246.00,333.00 C248.00,333.00 250.00,333.00 252.00,333.00 C254.00,333.00 256.00,333.00 258.00,332.00 C259.37,331.32 260.73,317.20 262.10,317.20 C262.97,317.20 263.83,335.90 264.70,335.90 C265.80,335.90 266.90,335.90 268.00,335.00 C268.67,334.45 269.33,326.07 270.00,320.00 C270.60,314.53 271.20,300.70 271.80,300.70 C272.67,300.70 273.53,326.96 274.40,330.70 C274.93,333.00 275.47,333.00 276.00,333.00 C276.77,333.00 277.53,309.40 278.30,309.40 C279.13,309.40 279.97,325.65 280.80,328.00 C282.20,331.95 283.60,331.36 285.00,332.00 C286.67,332.76 288.33,333.58 290.00,334.00 C293.33,334.83 296.67,335.00 300.00,335.00 C303.33,335.00 306.67,335.00 310.00,335.00 C313.33,335.00 316.67,334.25 320.00,334.00 C323.33,333.75 326.67,333.59 330.00,333.50 C333.33,333.41 336.67,333.50 340.00,332.00 C340.77,331.66 341.53,324.50 342.30,324.50 C342.87,324.50 343.43,329.87 344.00,331.00 C345.00,333.00 346.00,333.00 347.00,333.00 C347.83,333.00 348.67,328.46 349.50,325.00 C350.40,321.26 351.30,311.20 352.20,311.20 C352.63,311.20 353.07,315.95 353.50,320.00 C354.00,324.68 354.50,337.90 355.00,337.90 C356.67,337.90 358.33,337.23 360.00,337.00 C363.33,336.53 366.67,336.00 370.00,336.00 C373.33,336.00 376.67,336.00 380.00,336.00 C383.33,336.00 386.67,336.50 390.00,336.50 C393.33,336.50 396.67,336.50 400.00,336.00 C400.77,335.88 401.53,335.87 402.30,332.30 C403.33,327.49 404.37,308.40 405.40,308.40 C406.20,308.40 407.00,333.50 407.80,333.50 C408.53,333.50 409.27,333.50 410.00,332.30 C410.93,330.77 411.87,315.10 412.80,315.10 C413.53,315.10 414.27,324.77 415.00,326.80 C415.57,328.37 416.13,328.17 416.70,328.40 C417.47,328.71 418.23,328.49 419.00,329.00 C419.73,329.49 420.47,331.89 421.20,332.30 C422.47,333.00 423.73,333.00 425.00,333.00 C426.13,333.00 427.27,333.00 428.40,332.30 C429.03,331.91 429.67,285.00 430.30,285.00 C430.70,285.00 431.10,311.00 431.50,311.00 C431.83,311.00 432.17,308.00 432.50,308.00 C432.97,308.00 433.43,319.00 433.90,319.00 C434.27,319.00 434.63,318.00 435.00,318.00 C435.63,318.00 436.27,323.42 436.90,325.00 C437.87,327.41 438.83,328.80 439.80,328.80 C440.67,328.80 441.53,238.30 442.40,238.30 C443.00,238.30 443.60,313.00 444.20,313.00 C444.60,313.00 445.00,267.60 445.40,267.60 C445.80,267.60 446.20,291.30 446.60,291.30 C447.10,291.30 447.60,266.00 448.10,266.00 C448.63,266.00 449.17,305.08 449.70,311.00 C450.23,316.92 450.77,316.04 451.30,317.00 C451.77,317.84 452.23,319.00 452.70,319.00 C453.33,319.00 453.97,302.29 454.60,299.20 C455.27,295.95 455.93,297.53 456.60,295.20 C456.93,294.04 457.27,288.30 457.60,288.30 C457.93,288.30 458.27,299.20 458.60,299.20 C459.07,299.20 459.53,290.30 460.00,290.30 C460.53,290.30 461.07,304.52 461.60,311.00 C462.07,316.67 462.53,326.90 463.00,326.90 C464.00,326.90 465.00,326.90 466.00,325.00 C466.97,323.16 467.93,313.00 468.90,313.00 C469.73,313.00 470.57,320.19 471.40,327.00 C471.67,329.18 471.93,335.26 472.20,335.60 C473.13,336.80 474.07,336.80 475.00,336.80 C476.67,336.80 478.33,336.80 480.00,336.80 C481.67,336.80 483.33,336.80 485.00,335.60 C485.93,334.93 486.87,286.70 487.80,286.70 C488.43,286.70 489.07,306.70 489.70,306.70 C490.00,306.70 490.30,304.50 490.60,304.50 C491.17,304.50 491.73,321.62 492.30,326.80 C492.87,331.98 493.43,335.60 494.00,335.60 C495.10,335.60 496.20,329.60 497.30,329.60 C498.03,329.60 498.77,331.04 499.50,332.30 C500.00,333.16 500.50,335.53 501.00,335.60 C504.03,336.00 507.07,335.98 510.10,336.00 L510.1,339.6 Z" fill="rgba(242,105,115,0.21)" stroke="none"/>
<path d="M105.90,308.90 C106.17,300.47 106.43,283.60 106.70,283.60 C107.00,283.60 107.30,300.00 107.60,300.00 C107.83,300.00 108.07,300.00 108.30,298.00 C108.70,294.57 109.10,272.20 109.50,272.20 C109.87,272.20 110.23,288.30 110.60,288.30 C110.93,288.30 111.27,279.60 111.60,279.60 C111.97,279.60 112.33,297.53 112.70,304.00 C113.07,310.47 113.43,318.40 113.80,318.40 C114.20,318.40 114.60,281.90 115.00,272.00 C115.20,267.05 115.40,266.83 115.60,265.50 C115.93,263.28 116.27,263.73 116.60,263.00 C116.87,262.42 117.13,261.50 117.40,261.50 C117.93,261.50 118.47,310.50 119.00,310.50 C119.70,310.50 120.40,257.50 121.10,257.50 C121.60,257.50 122.10,323.00 122.60,323.00 C123.37,323.00 124.13,258.60 124.90,258.60 C125.57,258.60 126.23,323.90 126.90,323.90 C127.83,323.90 128.77,290.70 129.70,290.70 C130.20,290.70 130.70,318.40 131.20,318.40 C131.77,318.40 132.33,311.20 132.90,311.20 C133.80,311.20 134.70,327.94 135.60,332.60 C136.07,335.02 136.53,336.00 137.00,336.00 C137.83,336.00 138.67,336.00 139.50,334.00 C140.40,331.84 141.30,311.70 142.20,311.70 C142.97,311.70 143.73,328.23 144.50,332.30 C145.00,334.95 145.50,334.67 146.00,335.00 C147.50,336.00 149.00,336.00 150.50,336.00 C151.17,336.00 151.83,324.20 152.50,318.00 C153.43,309.32 154.37,291.10 155.30,291.10 C155.60,291.10 155.90,298.91 156.20,305.00 C156.57,312.45 156.93,329.72 157.30,332.70 C157.87,337.30 158.43,337.30 159.00,337.30 C159.90,337.30 160.80,314.80 161.70,314.80 C162.37,314.80 163.03,324.45 163.70,328.00 C164.47,332.08 165.23,337.30 166.00,337.30 C167.13,337.30 168.27,331.70 169.40,329.80 C170.57,327.85 171.73,325.80 172.90,325.80 C173.87,325.80 174.83,326.97 175.80,328.70 C176.77,330.43 177.73,336.20 178.70,336.20 C179.47,336.20 180.23,332.08 181.00,329.50 C181.93,326.36 182.87,318.80 183.80,318.80 C184.50,318.80 185.20,329.80 185.90,329.80 C186.67,329.80 187.43,317.10 188.20,317.10 C188.87,317.10 189.53,329.90 190.20,331.50 C190.70,332.70 191.20,332.70 191.70,332.70 C192.23,332.70 192.77,316.35 193.30,310.00 C193.77,304.44 194.23,296.50 194.70,296.50 C195.30,296.50 195.90,313.63 196.50,318.80 C197.10,323.97 197.70,327.50 198.30,327.50 C198.87,327.50 199.43,325.73 200.00,325.20 C200.77,324.48 201.53,324.00 202.30,324.00 C203.07,324.00 203.83,325.62 204.60,328.00 C205.17,329.76 205.73,335.60 206.30,335.60 C209.20,335.60 212.10,335.60 215.00,335.60 C215.50,335.60 216.00,324.86 216.50,321.80 C217.23,317.31 217.97,317.66 218.70,315.10 C219.13,313.59 219.57,313.31 220.00,310.00 C220.70,304.66 221.40,286.20 222.10,286.20 C222.67,286.20 223.23,311.28 223.80,318.80 C224.07,322.34 224.33,324.70 224.60,324.70 C225.33,324.70 226.07,268.50 226.80,268.50 C227.47,268.50 228.13,313.85 228.80,324.70 C229.33,333.38 229.87,333.33 230.40,333.50 C231.93,334.00 233.47,334.00 235.00,334.00 C236.17,334.00 237.33,334.00 238.50,330.00 C239.23,327.49 239.97,317.40 240.70,317.40 C241.43,317.40 242.17,328.90 242.90,330.60 C243.93,333.00 244.97,333.00 246.00,333.00 C248.00,333.00 250.00,333.00 252.00,333.00 C254.00,333.00 256.00,333.00 258.00,332.00 C259.37,331.32 260.73,317.20 262.10,317.20 C262.97,317.20 263.83,335.90 264.70,335.90 C265.80,335.90 266.90,335.90 268.00,335.00 C268.67,334.45 269.33,326.07 270.00,320.00 C270.60,314.53 271.20,300.70 271.80,300.70 C272.67,300.70 273.53,326.96 274.40,330.70 C274.93,333.00 275.47,333.00 276.00,333.00 C276.77,333.00 277.53,309.40 278.30,309.40 C279.13,309.40 279.97,325.65 280.80,328.00 C282.20,331.95 283.60,331.36 285.00,332.00 C286.67,332.76 288.33,333.58 290.00,334.00 C293.33,334.83 296.67,335.00 300.00,335.00 C303.33,335.00 306.67,335.00 310.00,335.00 C313.33,335.00 316.67,334.25 320.00,334.00 C323.33,333.75 326.67,333.59 330.00,333.50 C333.33,333.41 336.67,333.50 340.00,332.00 C340.77,331.66 341.53,324.50 342.30,324.50 C342.87,324.50 343.43,329.87 344.00,331.00 C345.00,333.00 346.00,333.00 347.00,333.00 C347.83,333.00 348.67,328.46 349.50,325.00 C350.40,321.26 351.30,311.20 352.20,311.20 C352.63,311.20 353.07,315.95 353.50,320.00 C354.00,324.68 354.50,337.90 355.00,337.90 C356.67,337.90 358.33,337.23 360.00,337.00 C363.33,336.53 366.67,336.00 370.00,336.00 C373.33,336.00 376.67,336.00 380.00,336.00 C383.33,336.00 386.67,336.50 390.00,336.50 C393.33,336.50 396.67,336.50 400.00,336.00 C400.77,335.88 401.53,335.87 402.30,332.30 C403.33,327.49 404.37,308.40 405.40,308.40 C406.20,308.40 407.00,333.50 407.80,333.50 C408.53,333.50 409.27,333.50 410.00,332.30 C410.93,330.77 411.87,315.10 412.80,315.10 C413.53,315.10 414.27,324.77 415.00,326.80 C415.57,328.37 416.13,328.17 416.70,328.40 C417.47,328.71 418.23,328.49 419.00,329.00 C419.73,329.49 420.47,331.89 421.20,332.30 C422.47,333.00 423.73,333.00 425.00,333.00 C426.13,333.00 427.27,333.00 428.40,332.30 C429.03,331.91 429.67,285.00 430.30,285.00 C430.70,285.00 431.10,311.00 431.50,311.00 C431.83,311.00 432.17,308.00 432.50,308.00 C432.97,308.00 433.43,319.00 433.90,319.00 C434.27,319.00 434.63,318.00 435.00,318.00 C435.63,318.00 436.27,323.42 436.90,325.00 C437.87,327.41 438.83,328.80 439.80,328.80 C440.67,328.80 441.53,238.30 442.40,238.30 C443.00,238.30 443.60,313.00 444.20,313.00 C444.60,313.00 445.00,267.60 445.40,267.60 C445.80,267.60 446.20,291.30 446.60,291.30 C447.10,291.30 447.60,266.00 448.10,266.00 C448.63,266.00 449.17,305.08 449.70,311.00 C450.23,316.92 450.77,316.04 451.30,317.00 C451.77,317.84 452.23,319.00 452.70,319.00 C453.33,319.00 453.97,302.29 454.60,299.20 C455.27,295.95 455.93,297.53 456.60,295.20 C456.93,294.04 457.27,288.30 457.60,288.30 C457.93,288.30 458.27,299.20 458.60,299.20 C459.07,299.20 459.53,290.30 460.00,290.30 C460.53,290.30 461.07,304.52 461.60,311.00 C462.07,316.67 462.53,326.90 463.00,326.90 C464.00,326.90 465.00,326.90 466.00,325.00 C466.97,323.16 467.93,313.00 468.90,313.00 C469.73,313.00 470.57,320.19 471.40,327.00 C471.67,329.18 471.93,335.26 472.20,335.60 C473.13,336.80 474.07,336.80 475.00,336.80 C476.67,336.80 478.33,336.80 480.00,336.80 C481.67,336.80 483.33,336.80 485.00,335.60 C485.93,334.93 486.87,286.70 487.80,286.70 C488.43,286.70 489.07,306.70 489.70,306.70 C490.00,306.70 490.30,304.50 490.60,304.50 C491.17,304.50 491.73,321.62 492.30,326.80 C492.87,331.98 493.43,335.60 494.00,335.60 C495.10,335.60 496.20,329.60 497.30,329.60 C498.03,329.60 498.77,331.04 499.50,332.30 C500.00,333.16 500.50,335.53 501.00,335.60 C504.03,336.00 507.07,335.98 510.10,336.00" fill="none" stroke="rgba(238,105,115,0.6)" stroke-width="1.25" stroke-linejoin="round"/>
<path d="M105.8,339.6 L105.9,324.7 C106.43,312.83 106.97,289.10 107.50,289.10 C108.17,289.10 108.83,324.70 109.50,324.70 C110.03,324.70 110.57,307.50 111.10,301.00 C111.73,293.28 112.37,282.80 113.00,282.80 C113.43,282.80 113.87,303.39 114.30,312.00 C114.67,319.28 115.03,329.24 115.40,331.00 C116.07,334.20 116.73,334.20 117.40,334.20 C118.20,334.20 119.00,334.20 119.80,331.00 C120.97,326.33 122.13,294.70 123.30,294.70 C124.13,294.70 124.97,324.88 125.80,331.00 C126.43,335.65 127.07,335.64 127.70,335.70 C130.80,336.00 133.90,336.00 137.00,336.00 C137.43,336.00 137.87,327.54 138.30,320.00 C138.70,313.04 139.10,293.00 139.50,293.00 C139.93,293.00 140.37,314.55 140.80,322.00 C141.20,328.88 141.60,336.43 142.00,336.50 C144.67,337.00 147.33,337.00 150.00,337.00 C153.33,337.00 156.67,336.80 160.00,336.80 C163.33,336.80 166.67,336.80 170.00,336.80 C173.33,336.80 176.67,336.60 180.00,336.50 C183.33,336.40 186.67,336.20 190.00,336.20 C193.33,336.20 196.67,336.20 200.00,336.20 C203.33,336.20 206.67,336.00 210.00,336.00 C211.67,336.00 213.33,336.35 215.00,336.50 C217.10,336.69 219.20,337.00 221.30,337.00 C221.73,337.00 222.17,331.07 222.60,325.00 C222.93,320.33 223.27,306.20 223.60,306.20 C223.93,306.20 224.27,317.28 224.60,322.00 C225.00,327.66 225.40,337.00 225.80,337.00 C227.20,337.00 228.60,336.62 230.00,336.50 C233.33,336.22 236.67,336.13 240.00,336.00 C243.33,335.87 246.67,335.70 250.00,335.70 C252.40,335.70 254.80,335.70 257.20,335.50 C257.80,335.45 258.40,329.78 259.00,326.00 C259.43,323.27 259.87,318.73 260.30,316.50 C260.60,314.95 260.90,313.80 261.20,313.80 C261.53,313.80 261.87,314.50 262.20,317.00 C262.57,319.75 262.93,327.07 263.30,330.00 C263.70,333.20 264.10,335.00 264.50,335.00 C268.20,335.00 271.90,335.00 275.60,334.60 C275.83,334.57 276.07,282.30 276.30,282.30 C276.60,282.30 276.90,321.70 277.20,321.70 C277.57,321.70 277.93,299.00 278.30,299.00 C278.70,299.00 279.10,307.63 279.50,313.90 C279.93,320.69 280.37,338.50 280.80,338.50 C281.53,338.50 282.27,336.50 283.00,336.50 C287.00,336.50 291.00,336.50 295.00,336.50 C296.00,336.50 297.00,331.81 298.00,330.00 C298.73,328.67 299.47,326.80 300.20,326.80 C300.80,326.80 301.40,327.93 302.00,329.00 C302.50,329.89 303.00,332.50 303.50,332.50 C304.00,332.50 304.50,326.20 305.00,326.20 C306.30,326.20 307.60,330.95 308.90,332.30 C310.40,333.86 311.90,334.60 313.40,334.60 C314.27,334.60 315.13,333.76 316.00,333.00 C317.17,331.97 318.33,329.00 319.50,329.00 C320.43,329.00 321.37,332.90 322.30,332.90 C322.87,332.90 323.43,329.00 324.00,329.00 C324.73,329.00 325.47,331.80 326.20,331.80 C327.30,331.80 328.40,321.20 329.50,321.20 C330.23,321.20 330.97,323.71 331.70,325.70 C332.47,327.78 333.23,332.85 334.00,333.50 C335.30,334.60 336.60,334.60 337.90,334.60 C338.60,334.60 339.30,331.02 340.00,330.00 C341.50,327.82 343.00,326.80 344.50,326.80 C345.27,326.80 346.03,329.00 346.80,329.00 C347.53,329.00 348.27,329.00 349.00,327.90 C349.70,326.85 350.40,319.50 351.10,319.50 C351.87,319.50 352.63,330.08 353.40,331.20 C354.13,332.27 354.87,332.06 355.60,332.30 C356.13,332.47 356.67,333.50 357.20,333.50 C359.07,333.50 360.93,333.24 362.80,332.90 C365.03,332.50 367.27,331.20 369.50,331.20 C371.00,331.20 372.50,334.60 374.00,334.60 C377.33,334.60 380.67,333.50 384.00,333.50 C386.60,333.50 389.20,334.34 391.80,334.60 C394.53,334.88 397.27,335.10 400.00,335.10 C403.33,335.10 406.67,335.10 410.00,335.10 C413.33,335.10 416.67,335.10 420.00,335.10 C422.80,335.10 425.60,335.10 428.40,335.10 C429.33,335.10 430.27,326.21 431.20,325.70 C432.30,325.10 433.40,325.10 434.50,325.10 C435.07,325.10 435.63,329.00 436.20,329.00 C437.13,329.00 438.07,322.30 439.00,322.30 C439.67,322.30 440.33,333.00 441.00,333.00 C441.63,333.00 442.27,331.00 442.90,331.00 C443.53,331.00 444.17,334.50 444.80,334.50 C445.77,334.50 446.73,319.00 447.70,319.00 C448.30,319.00 448.90,327.00 449.50,327.00 C450.33,327.00 451.17,326.40 452.00,326.00 C453.20,325.43 454.40,324.93 455.60,324.00 C456.60,323.22 457.60,322.83 458.60,321.00 C459.60,319.17 460.60,313.00 461.60,313.00 C462.23,313.00 462.87,330.80 463.50,330.80 C464.17,330.80 464.83,292.30 465.50,292.30 C465.97,292.30 466.43,311.00 466.90,311.00 C467.20,311.00 467.50,299.50 467.80,299.50 C468.20,299.50 468.60,319.13 469.00,324.50 C469.50,331.21 470.00,331.51 470.50,333.50 C471.07,335.75 471.63,336.80 472.20,336.80 C474.80,336.80 477.40,336.20 480.00,336.20 C483.33,336.20 486.67,336.20 490.00,336.20 C493.33,336.20 496.67,336.20 500.00,336.20 C501.00,336.20 502.00,336.02 503.00,335.50 C504.07,334.94 505.13,332.90 506.20,332.90 C507.30,332.90 508.40,334.37 509.50,335.10 C509.70,335.23 509.90,335.37 510.10,335.50 L510.1,339.6 Z" fill="rgba(110,95,215,0.29)" stroke="none"/>
<path d="M105.90,324.70 C106.43,312.83 106.97,289.10 107.50,289.10 C108.17,289.10 108.83,324.70 109.50,324.70 C110.03,324.70 110.57,307.50 111.10,301.00 C111.73,293.28 112.37,282.80 113.00,282.80 C113.43,282.80 113.87,303.39 114.30,312.00 C114.67,319.28 115.03,329.24 115.40,331.00 C116.07,334.20 116.73,334.20 117.40,334.20 C118.20,334.20 119.00,334.20 119.80,331.00 C120.97,326.33 122.13,294.70 123.30,294.70 C124.13,294.70 124.97,324.88 125.80,331.00 C126.43,335.65 127.07,335.64 127.70,335.70 C130.80,336.00 133.90,336.00 137.00,336.00 C137.43,336.00 137.87,327.54 138.30,320.00 C138.70,313.04 139.10,293.00 139.50,293.00 C139.93,293.00 140.37,314.55 140.80,322.00 C141.20,328.88 141.60,336.43 142.00,336.50 C144.67,337.00 147.33,337.00 150.00,337.00 C153.33,337.00 156.67,336.80 160.00,336.80 C163.33,336.80 166.67,336.80 170.00,336.80 C173.33,336.80 176.67,336.60 180.00,336.50 C183.33,336.40 186.67,336.20 190.00,336.20 C193.33,336.20 196.67,336.20 200.00,336.20 C203.33,336.20 206.67,336.00 210.00,336.00 C211.67,336.00 213.33,336.35 215.00,336.50 C217.10,336.69 219.20,337.00 221.30,337.00 C221.73,337.00 222.17,331.07 222.60,325.00 C222.93,320.33 223.27,306.20 223.60,306.20 C223.93,306.20 224.27,317.28 224.60,322.00 C225.00,327.66 225.40,337.00 225.80,337.00 C227.20,337.00 228.60,336.62 230.00,336.50 C233.33,336.22 236.67,336.13 240.00,336.00 C243.33,335.87 246.67,335.70 250.00,335.70 C252.40,335.70 254.80,335.70 257.20,335.50 C257.80,335.45 258.40,329.78 259.00,326.00 C259.43,323.27 259.87,318.73 260.30,316.50 C260.60,314.95 260.90,313.80 261.20,313.80 C261.53,313.80 261.87,314.50 262.20,317.00 C262.57,319.75 262.93,327.07 263.30,330.00 C263.70,333.20 264.10,335.00 264.50,335.00 C268.20,335.00 271.90,335.00 275.60,334.60 C275.83,334.57 276.07,282.30 276.30,282.30 C276.60,282.30 276.90,321.70 277.20,321.70 C277.57,321.70 277.93,299.00 278.30,299.00 C278.70,299.00 279.10,307.63 279.50,313.90 C279.93,320.69 280.37,338.50 280.80,338.50 C281.53,338.50 282.27,336.50 283.00,336.50 C287.00,336.50 291.00,336.50 295.00,336.50 C296.00,336.50 297.00,331.81 298.00,330.00 C298.73,328.67 299.47,326.80 300.20,326.80 C300.80,326.80 301.40,327.93 302.00,329.00 C302.50,329.89 303.00,332.50 303.50,332.50 C304.00,332.50 304.50,326.20 305.00,326.20 C306.30,326.20 307.60,330.95 308.90,332.30 C310.40,333.86 311.90,334.60 313.40,334.60 C314.27,334.60 315.13,333.76 316.00,333.00 C317.17,331.97 318.33,329.00 319.50,329.00 C320.43,329.00 321.37,332.90 322.30,332.90 C322.87,332.90 323.43,329.00 324.00,329.00 C324.73,329.00 325.47,331.80 326.20,331.80 C327.30,331.80 328.40,321.20 329.50,321.20 C330.23,321.20 330.97,323.71 331.70,325.70 C332.47,327.78 333.23,332.85 334.00,333.50 C335.30,334.60 336.60,334.60 337.90,334.60 C338.60,334.60 339.30,331.02 340.00,330.00 C341.50,327.82 343.00,326.80 344.50,326.80 C345.27,326.80 346.03,329.00 346.80,329.00 C347.53,329.00 348.27,329.00 349.00,327.90 C349.70,326.85 350.40,319.50 351.10,319.50 C351.87,319.50 352.63,330.08 353.40,331.20 C354.13,332.27 354.87,332.06 355.60,332.30 C356.13,332.47 356.67,333.50 357.20,333.50 C359.07,333.50 360.93,333.24 362.80,332.90 C365.03,332.50 367.27,331.20 369.50,331.20 C371.00,331.20 372.50,334.60 374.00,334.60 C377.33,334.60 380.67,333.50 384.00,333.50 C386.60,333.50 389.20,334.34 391.80,334.60 C394.53,334.88 397.27,335.10 400.00,335.10 C403.33,335.10 406.67,335.10 410.00,335.10 C413.33,335.10 416.67,335.10 420.00,335.10 C422.80,335.10 425.60,335.10 428.40,335.10 C429.33,335.10 430.27,326.21 431.20,325.70 C432.30,325.10 433.40,325.10 434.50,325.10 C435.07,325.10 435.63,329.00 436.20,329.00 C437.13,329.00 438.07,322.30 439.00,322.30 C439.67,322.30 440.33,333.00 441.00,333.00 C441.63,333.00 442.27,331.00 442.90,331.00 C443.53,331.00 444.17,334.50 444.80,334.50 C445.77,334.50 446.73,319.00 447.70,319.00 C448.30,319.00 448.90,327.00 449.50,327.00 C450.33,327.00 451.17,326.40 452.00,326.00 C453.20,325.43 454.40,324.93 455.60,324.00 C456.60,323.22 457.60,322.83 458.60,321.00 C459.60,319.17 460.60,313.00 461.60,313.00 C462.23,313.00 462.87,330.80 463.50,330.80 C464.17,330.80 464.83,292.30 465.50,292.30 C465.97,292.30 466.43,311.00 466.90,311.00 C467.20,311.00 467.50,299.50 467.80,299.50 C468.20,299.50 468.60,319.13 469.00,324.50 C469.50,331.21 470.00,331.51 470.50,333.50 C471.07,335.75 471.63,336.80 472.20,336.80 C474.80,336.80 477.40,336.20 480.00,336.20 C483.33,336.20 486.67,336.20 490.00,336.20 C493.33,336.20 496.67,336.20 500.00,336.20 C501.00,336.20 502.00,336.02 503.00,335.50 C504.07,334.94 505.13,332.90 506.20,332.90 C507.30,332.90 508.40,334.37 509.50,335.10 C509.70,335.23 509.90,335.37 510.10,335.50" fill="none" stroke="rgba(95,110,235,0.72)" stroke-width="1.15" stroke-linejoin="round"/>
<rect x="337.9" y="254.2" width="8.6" height="8.3" fill="#d84a26"/>
<text x="349.80" y="261.40" font-size="8.3" textLength="30.70" lengthAdjust="spacingAndGlyphs" fill="#000" style="color:#000" >H3K4me1</text>
<rect x="337.9" y="262.1" width="8.6" height="8.3" fill="#eaa91c"/>
<text x="349.80" y="269.30" font-size="8.3" textLength="35.20" lengthAdjust="spacingAndGlyphs" fill="#000" style="color:#000" >H3K27me3</text>
<rect x="337.9" y="270.3" width="8.6" height="8.3" fill="#159a86"/>
<text x="349.80" y="277.50" font-size="8.3" textLength="30.70" lengthAdjust="spacingAndGlyphs" fill="#000" style="color:#000" >H3K9me3</text>
<rect x="337.9" y="278.6" width="8.6" height="8.3" fill="#2e2a86"/>
<text x="349.80" y="285.80" font-size="8.3" textLength="35.20" lengthAdjust="spacingAndGlyphs" fill="#000" style="color:#000" >H3K36me3</text>
<line x1="440.2" y1="354.4" x2="453.5" y2="354.4" stroke="#000" stroke-width="1.4"/>
<line x1="106.8" y1="371.1" x2="511.5" y2="371.1" stroke="#000" stroke-width="1.15"/>
<line x1="139.4" y1="371.1" x2="139.4" y2="373.8" stroke="#000" stroke-width="0.9"/>
<text x="124.60" y="384.40" font-size="7.3" textLength="29.60" lengthAdjust="spacingAndGlyphs" fill="#000" style="color:#000" >10.00Mb</text>
<line x1="220.3" y1="371.1" x2="220.3" y2="373.8" stroke="#000" stroke-width="0.9"/>
<text x="205.50" y="384.40" font-size="7.3" textLength="29.60" lengthAdjust="spacingAndGlyphs" fill="#000" style="color:#000" >10.50Mb</text>
<line x1="301.3" y1="371.1" x2="301.3" y2="373.8" stroke="#000" stroke-width="0.9"/>
<text x="286.50" y="384.40" font-size="7.3" textLength="29.60" lengthAdjust="spacingAndGlyphs" fill="#000" style="color:#000" >11.00Mb</text>
<line x1="381.6" y1="371.1" x2="381.6" y2="373.8" stroke="#000" stroke-width="0.9"/>
<text x="366.80" y="384.40" font-size="7.3" textLength="29.60" lengthAdjust="spacingAndGlyphs" fill="#000" style="color:#000" >11.50Mb</text>
<line x1="462.9" y1="371.1" x2="462.9" y2="373.8" stroke="#000" stroke-width="0.9"/>
<text x="448.10" y="384.40" font-size="7.3" textLength="29.60" lengthAdjust="spacingAndGlyphs" fill="#000" style="color:#000" >12.00Mb</text>
<text x="268.00" y="398.50" font-size="8.6" textLength="82.80" lengthAdjust="spacingAndGlyphs" fill="#000" style="color:#000" >chr 12 position (Mb)</text>
<text transform="translate(37.0,552.1) rotate(-90)" x="0" y="0" font-size="10.6" textLength="137.8" lengthAdjust="spacingAndGlyphs">Gene expression, log<tspan font-size="7.42" dy="2">2</tspan><tspan dy="-2"> (RPKM + 2)</tspan></text>
<text transform="translate(217.9,556.6) rotate(-90)" x="0" y="0" font-size="10.6" textLength="138.6" lengthAdjust="spacingAndGlyphs">Gene expression, log<tspan font-size="7.42" dy="2">2</tspan><tspan dy="-2"> (RPKM + 2)</tspan></text>
<text x="65.80" y="431.80" font-size="6.9" textLength="73.40" lengthAdjust="spacingAndGlyphs" fill="#000" style="color:#000" >CD69 in DLBCL tumors</text>
<text x="71.90" y="441.80" font-size="6.9" textLength="62.10" lengthAdjust="spacingAndGlyphs" fill="#000" style="color:#000" >β = -1.73, P = 0.023</text>
<line x1="55.6" y1="457.7" x2="55.6" y2="507.7" stroke="#000" stroke-width="1"/>
<line x1="53" y1="505.40" x2="55.6" y2="505.40" stroke="#000" stroke-width="0.9"/>
<text x="45.40" y="507.90" font-size="7.0" textLength="4.40" lengthAdjust="spacingAndGlyphs" fill="#000" style="color:#000" >0</text>
<line x1="53" y1="490.26" x2="55.6" y2="490.26" stroke="#000" stroke-width="0.9"/>
<text x="45.40" y="492.76" font-size="7.0" textLength="4.40" lengthAdjust="spacingAndGlyphs" fill="#000" style="color:#000" >2</text>
<line x1="53" y1="475.12" x2="55.6" y2="475.12" stroke="#000" stroke-width="0.9"/>
<text x="45.40" y="477.62" font-size="7.0" textLength="4.40" lengthAdjust="spacingAndGlyphs" fill="#000" style="color:#000" >4</text>
<line x1="53" y1="459.98" x2="55.6" y2="459.98" stroke="#000" stroke-width="0.9"/>
<text x="45.40" y="462.48" font-size="7.0" textLength="4.40" lengthAdjust="spacingAndGlyphs" fill="#000" style="color:#000" >6</text>
<rect x="65.7" y="473.5" width="45.1" height="2.6" fill="#c0204a"/>
<line x1="65.7" y1="474.8" x2="110.8" y2="474.8" stroke="#000" stroke-width="1.8"/>
<circle cx="88.25" cy="461.75" r="1.25" fill="#000"/>
<circle cx="88.25" cy="486.5" r="1.25" fill="#000"/>
<line x1="144.5" y1="463" x2="144.5" y2="480" stroke="#000" stroke-width="0.8" stroke-dasharray="1 2"/>
<line x1="144.5" y1="494.3" x2="144.5" y2="509.5" stroke="#000" stroke-width="0.8" stroke-dasharray="1 2"/>
<line x1="133" y1="463.5" x2="155.5" y2="463.5" stroke="#000" stroke-width="1"/>
<line x1="133" y1="509.5" x2="155.5" y2="509.5" stroke="#000" stroke-width="1"/>
<rect x="122" y="480" width="45" height="14.3" fill="#2c4f8e"/>
<line x1="122" y1="489.25" x2="167" y2="489.25" stroke="#000" stroke-width="1.5"/>
<circle cx="144.5" cy="453.3" r="1.25" fill="#000"/>
<circle cx="144" cy="517.4" r="1.25" fill="#000"/>
<path d="M87.7 523 V520.5 H144.3 V523" fill="none" stroke="#000" stroke-width="0.9"/>
<text x="71.25" y="533.30" font-size="7.0" textLength="35.00" lengthAdjust="spacingAndGlyphs" fill="#000" style="color:#000" >Loss (n=5)</text>
<text x="123.25" y="533.30" font-size="7.0" textLength="51.75" lengthAdjust="spacingAndGlyphs" fill="#000" style="color:#000" >No CNV (n=49)</text>
<text x="265.00" y="431.80" font-size="6.9" textLength="71.90" lengthAdjust="spacingAndGlyphs" fill="#000" style="color:#000" >ETV6 in DLBCL tumors</text>
<text x="269.80" y="441.50" font-size="6.9" textLength="61.90" lengthAdjust="spacingAndGlyphs" fill="#000" style="color:#000" >β = -0.39, P = 0.391</text>
<line x1="243.2" y1="452.6" x2="243.2" y2="522.7" stroke="#000" stroke-width="1"/>
<line x1="240.8" y1="519.80" x2="243.2" y2="519.80" stroke="#000" stroke-width="0.9"/>
<text x="226.90" y="522.30" font-size="7.0" textLength="10.70" lengthAdjust="spacingAndGlyphs" fill="#000" style="color:#000" >0.5</text>
<line x1="240.8" y1="510.63" x2="243.2" y2="510.63" stroke="#000" stroke-width="0.9"/>
<line x1="240.8" y1="501.47" x2="243.2" y2="501.47" stroke="#000" stroke-width="0.9"/>
<text x="226.90" y="503.97" font-size="7.0" textLength="10.70" lengthAdjust="spacingAndGlyphs" fill="#000" style="color:#000" >1.5</text>
<line x1="240.8" y1="492.30" x2="243.2" y2="492.30" stroke="#000" stroke-width="0.9"/>
<line x1="240.8" y1="483.14" x2="243.2" y2="483.14" stroke="#000" stroke-width="0.9"/>
<text x="226.90" y="485.64" font-size="7.0" textLength="10.70" lengthAdjust="spacingAndGlyphs" fill="#000" style="color:#000" >2.5</text>
<line x1="240.8" y1="473.97" x2="243.2" y2="473.97" stroke="#000" stroke-width="0.9"/>
<line x1="240.8" y1="464.81" x2="243.2" y2="464.81" stroke="#000" stroke-width="0.9"/>
<text x="226.90" y="467.31" font-size="7.0" textLength="10.70" lengthAdjust="spacingAndGlyphs" fill="#000" style="color:#000" >3.5</text>
<line x1="276.1" y1="457.5" x2="276.1" y2="462.7" stroke="#000" stroke-width="0.8" stroke-dasharray="0.9 1.2"/>
<line x1="265.5" y1="457.5" x2="286.8" y2="457.5" stroke="#000" stroke-width="1"/>
<line x1="265.5" y1="489.4" x2="286.8" y2="489.4" stroke="#000" stroke-width="1"/>
<rect x="253.4" y="462.7" width="45.2" height="24.2" fill="#a6032d"/>
<line x1="253.4" y1="470.5" x2="298.6" y2="470.5" stroke="#000" stroke-width="1.5"/>
<line x1="332.3" y1="453.2" x2="332.3" y2="467.1" stroke="#000" stroke-width="0.8" stroke-dasharray="0.9 1.2"/>
<line x1="332.3" y1="495.7" x2="332.3" y2="517.5" stroke="#000" stroke-width="0.8" stroke-dasharray="0.9 1.2"/>
<line x1="321.5" y1="453.5" x2="343" y2="453.5" stroke="#000" stroke-width="1"/>
<line x1="321.5" y1="517.5" x2="343" y2="517.5" stroke="#000" stroke-width="1"/>
<rect x="309.8" y="467.1" width="44.7" height="28.6" fill="#2c4f8e"/>
<line x1="309.8" y1="479.4" x2="354.5" y2="479.4" stroke="#000" stroke-width="1.5"/>
<path d="M276 523 V520.6 H332.3 V523" fill="none" stroke="#000" stroke-width="0.9"/>
<text x="256.90" y="533.00" font-size="7.0" textLength="36.00" lengthAdjust="spacingAndGlyphs" fill="#000" style="color:#000" >Loss (n=5)</text>
<text x="308.30" y="533.00" font-size="7.0" textLength="51.70" lengthAdjust="spacingAndGlyphs" fill="#000" style="color:#000" >No CNV (n=44)</text>
</svg>
</body></html>
